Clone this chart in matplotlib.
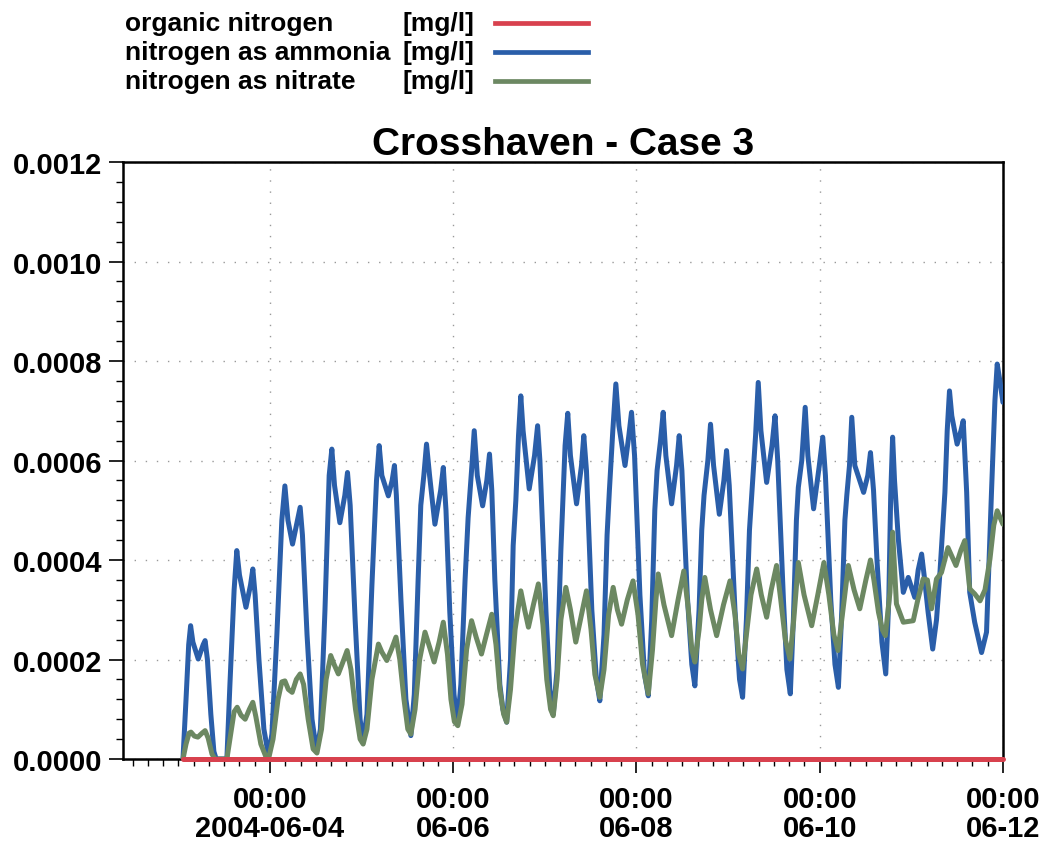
import numpy as np
import pandas as pd
import matplotlib
matplotlib.use("Agg")
import matplotlib.pyplot as plt
import matplotlib.dates as mdates
from matplotlib.lines import Line2D
from matplotlib.ticker import MultipleLocator, FixedLocator

plt.rcParams['font.family'] = ['Liberation Sans', 'DejaVu Sans']

# time in hours after 2004-06-04 00:00, concentrations in 1e-4 mg/l
t_amm = [-22.8, -22.0, -21.3, -20.8, -20.2, -18.8, -17.5, -17.0, -16.4, -15.5, -14.7, -14.1,
         -11.3, -10.5, -9.4, -8.7, -8.0, -6.3, -5.1, -4.5, -3.9, -2.9, -1.6, -0.4,
         0.5, 1.8, 3.1, 3.9, 4.7, 5.9, 7.2, 7.9, 8.5, 9.7, 11.0, 12.2,
         13.2, 14.4, 15.5, 16.2, 16.9, 18.3, 19.6, 20.3, 21.0, 22.3, 23.6, 24.4,
         25.4, 26.7, 27.9, 28.6, 29.3, 31.0, 32.0, 32.6, 33.1, 34.3, 35.6, 36.9,
         37.8, 38.8, 39.5, 40.3, 41.0, 41.8, 43.2, 44.7, 45.4, 46.1, 47.1, 48.2, 49.1,
         50.0, 51.1, 51.9, 52.8, 53.5, 54.3, 55.7, 56.8, 57.5, 58.1, 58.9, 60.2, 61.0, 62.0,
         63.0, 63.7, 64.4, 65.1, 65.7, 66.3, 67.9, 69.3, 70.1, 70.7, 72.3, 73.3, 74.2,
         75.2, 76.2, 77.3, 78.0, 78.7, 80.3, 81.6, 82.2, 82.9, 84.3, 85.5, 86.4,
         87.5, 88.3, 88.9, 89.8, 90.6, 91.4, 93.0, 94.0, 94.7, 95.5, 96.9, 98.1, 99.1,
         100.0, 100.8, 101.4, 102.3, 103.0, 103.7, 105.2, 106.5, 107.2, 107.9, 109.3, 110.5, 111.3,
         112.4, 113.1, 113.7, 114.7, 115.4, 116.2, 117.7, 118.9, 119.6, 120.3, 121.8, 123.0, 123.8,
         124.8, 125.6, 126.2, 127.2, 127.9, 128.6, 130.1, 131.5, 132.3, 133.0, 134.5, 135.4, 136.3,
         137.1, 137.9, 138.4, 139.3, 140.2, 140.9, 142.4, 143.9, 144.8, 145.5, 146.9, 148.0, 148.9,
         149.8, 150.6, 151.1, 151.8, 152.4, 153.2, 155.5, 156.6, 157.3, 158.1, 159.0, 160.3, 161.3,
         162.1, 162.6, 163.1, 163.6, 164.6, 165.9, 167.2, 168.9, 169.8, 170.7, 171.5, 172.4, 173.6,
         174.6, 175.5, 176.8, 177.4, 178.0, 178.6, 180.0, 181.0, 181.6, 182.5, 183.3, 184.6, 186.4,
         187.7, 189.0, 189.9, 190.5, 191.2, 192.0]
ammonia = [0, 1.2, 2.3, 2.68, 2.35, 2.01, 2.3, 2.38, 2.0, 0.9, 0.15, 0,
           0, 1.5, 3.4, 4.19, 3.7, 3.05, 3.5, 3.82, 3.3, 2.0, 0.6, 0.07,
           0.5, 2.5, 4.8, 5.49, 4.8, 4.32, 4.8, 5.06, 4.5, 2.5, 0.8, 0.15,
           0.6, 3.0, 5.7, 6.23, 5.5, 4.75, 5.3, 5.76, 5.1, 2.8, 0.8, 0.34,
           0.9, 3.5, 5.6, 6.3, 5.7, 5.29, 5.6, 5.9, 5.3, 3.2, 1.2, 0.47,
           1.3, 3.6, 5.1, 5.7, 6.33, 5.7, 4.72, 5.4, 5.86, 5.0, 2.95, 1.3, 0.7,
           1.5, 3.6, 4.85, 5.8, 6.6, 5.7, 5.09, 5.6, 6.13, 5.4, 3.6, 1.5, 1.0, 0.74,
           2.0, 4.29, 5.2, 6.5, 7.3, 6.6, 5.43, 6.1, 6.7, 6.0, 2.95, 1.4, 0.9,
           1.8, 4.2, 6.3, 6.95, 6.1, 5.13, 5.9, 6.5, 5.8, 3.0, 1.6, 1.17,
           2.5, 4.5, 5.39, 6.6, 7.54, 6.7, 5.9, 6.5, 6.97, 6.1, 3.3, 1.7, 1.27,
           2.8, 5.0, 5.8, 6.4, 6.97, 6.1, 5.13, 5.9, 6.5, 5.8, 3.3, 1.9, 1.47,
           3.0, 4.6, 5.3, 6.0, 6.73, 5.9, 4.92, 5.6, 6.2, 5.5, 3.0, 1.6, 1.24,
           2.8, 4.6, 5.3, 6.5, 7.57, 6.6, 5.56, 6.3, 6.9, 6.0, 3.2, 1.8, 1.31,
           2.8, 4.8, 5.46, 6.0, 7.07, 6.1, 5.03, 5.9, 6.47, 5.7, 3.2, 1.9, 1.44,
           3.0, 4.8, 5.3, 5.9, 6.87, 5.9, 5.36, 5.7, 6.16, 5.4, 4.0, 2.35, 1.71,
           3.2, 5.3, 6.47, 5.6, 4.42, 3.35, 3.65, 3.25, 3.8, 4.12, 3.6, 2.95, 2.21,
           2.8, 3.75, 5.36, 6.6, 7.4, 6.9, 6.33, 6.6, 6.8, 5.36, 3.35, 2.75, 2.14,
           2.55, 5.36, 7.2, 7.94, 7.6, 7.17]

t_nit = [-22.8, -22.0, -21.2, -20.7, -19.8, -18.9, -17.8, -17.0, -16.2, -15.2, -14.4,
         -11.3, -10.5, -9.4, -8.6, -7.6, -6.5, -5.4, -4.5, -3.7, -2.4, -1.0, -0.3,
         0.8, 2.1, 3.1, 3.9, 4.8, 5.8, 6.9, 7.9, 8.8, 10.0, 11.3, 12.3,
         13.5, 14.7, 15.9, 16.8, 17.9, 19.1, 20.2, 21.2, 22.4, 23.6, 24.4,
         25.4, 26.7, 28.4, 29.3, 30.6, 31.8, 33.0, 34.0, 35.1, 36.1, 36.9,
         38.0, 39.2, 40.6, 41.6, 43.0, 44.3, 45.4, 46.5, 47.4, 48.3, 49.2,
         50.3, 51.5, 52.8, 54.0, 55.4, 56.7, 58.1, 59.2, 60.2, 61.2, 62.0,
         63.0, 64.2, 65.7, 66.7, 67.7, 69.0, 70.3, 71.5, 72.5, 73.5, 74.2,
         75.2, 76.2, 77.5, 78.7, 80.1, 81.6, 82.9, 84.1, 85.1, 86.4,
         87.5, 88.7, 89.9, 91.0, 92.1, 93.6, 95.1, 96.4, 97.6, 99.1,
         100.2, 101.1, 101.7, 103.2, 105.2, 106.9, 108.4, 109.6, 110.5, 111.3,
         112.4, 113.1, 113.9, 115.4, 117.0, 118.8, 120.5, 121.8, 122.8, 123.8,
         124.8, 126.0, 127.5, 128.7, 130.1, 131.3, 132.7, 133.8, 135.0, 136.2,
         137.2, 138.4, 139.9, 141.9, 143.5, 145.1, 146.4, 147.7, 148.8,
         150.1, 151.5, 153.0, 154.5, 156.1, 157.3, 158.2, 159.4, 160.4, 161.2,
         162.4, 163.1, 164.1, 165.9, 168.5, 169.7, 171.1, 172.2, 173.3, 174.6, 175.9,
         177.6, 179.7, 181.0, 182.0, 183.3, 184.6, 186.0, 187.3, 188.6, 189.6, 190.5, 192.0]
nitrate = [0, 0.3, 0.52, 0.54, 0.46, 0.44, 0.52, 0.57, 0.42, 0.1, 0,
           0, 0.4, 0.95, 1.04, 0.88, 0.8, 1.0, 1.14, 0.85, 0.3, 0.03, 0.03,
           0.4, 1.2, 1.55, 1.57, 1.4, 1.34, 1.6, 1.71, 1.5, 0.8, 0.2, 0.12,
           0.6, 1.6, 2.08, 1.9, 1.71, 1.95, 2.18, 1.8, 1.0, 0.4, 0.3,
           0.6, 1.6, 2.31, 2.15, 1.98, 2.2, 2.45, 2.0, 1.2, 0.6, 0.5,
           1.0, 2.0, 2.55, 2.3, 1.95, 2.35, 2.75, 2.1, 1.2, 0.75, 0.67,
           1.1, 2.2, 2.78, 2.45, 2.11, 2.5, 2.91, 2.3, 1.4, 0.9, 0.74,
           1.4, 2.6, 3.38, 3.0, 2.65, 3.1, 3.52, 2.7, 1.6, 1.0, 0.87,
           1.6, 2.8, 3.45, 3.0, 2.35, 2.9, 3.38, 2.6, 1.7, 1.24,
           1.8, 2.9, 3.45, 3.0, 2.71, 3.2, 3.58, 2.9, 1.9, 1.31,
           2.2, 3.2, 3.72, 3.1, 2.48, 3.2, 3.78, 3.0, 2.2, 1.95,
           2.6, 3.2, 3.65, 3.0, 2.48, 3.1, 3.58, 2.9, 2.1, 1.81,
           2.5, 3.3, 3.82, 3.3, 2.85, 3.4, 3.89, 3.2, 2.4, 2.01,
           2.8, 3.95, 3.3, 2.68, 3.3, 3.95, 3.3, 2.5, 2.18,
           3.0, 3.89, 3.4, 3.02, 3.6, 4.0, 3.6, 2.95, 2.6, 2.48,
           3.35, 4.56, 3.12, 2.75, 2.78, 3.2, 3.62, 3.6, 3.02, 3.62, 3.75,
           4.25, 3.89, 4.2, 4.39, 3.42, 3.32, 3.18, 3.4, 4.02, 4.7, 4.99, 4.72]

t_org = [-22.8, 192.0]
organic = [0, 0]

labels = ['organic nitrogen', 'nitrogen as ammonia', 'nitrogen as nitrate']
colors = ['#d8414e', '#2a5ea9', '#6c8862']

t0 = pd.Timestamp('2004-06-04 00:00')
def to_time(h):
    return t0 + pd.to_timedelta(np.array(h), unit='h')

fig = plt.figure(figsize=(10.48, 8.45), dpi=100)
ax = fig.add_axes([0.1174, 0.1006, 0.8396, 0.7064])

kw = dict(lw=3.6, solid_joinstyle='round', solid_capstyle='round')
ax.plot(to_time(t_amm), np.array(ammonia) * 1e-4, color=colors[1], zorder=3, **kw)
ax.plot(to_time(t_nit), np.array(nitrate) * 1e-4, color=colors[2], zorder=4, **kw)
ax.plot(to_time(t_org), np.array(organic) * 1e-4, color=colors[0], zorder=5, clip_on=False, **kw)

ax.set_xlim(t0 - pd.Timedelta(hours=38.5), pd.Timestamp('2004-06-12 00:00'))
ax.set_ylim(0, 0.0012)

ax.yaxis.set_major_locator(MultipleLocator(0.0002))
ax.yaxis.set_minor_locator(MultipleLocator(0.00004))
ax.set_yticklabels([f'{v:.4f}' for v in ax.get_yticks()])

major_days = pd.date_range('2004-06-04', '2004-06-12', freq='2D')
ax.xaxis.set_major_locator(FixedLocator(mdates.date2num(major_days)))
ax.xaxis.set_minor_locator(mdates.HourLocator(byhour=range(0, 24, 4)))
xlabels = ['00:00\n' + (d.strftime('%Y-%m-%d') if i == 0 else d.strftime('%m-%d'))
           for i, d in enumerate(major_days)]
ax.set_xticklabels(xlabels, linespacing=1.05)

for lab in ax.get_xticklabels() + ax.get_yticklabels():
    lab.set_fontsize(21)
    lab.set_fontweight('bold')

ax.tick_params(axis='both', which='major', length=10, width=1.2, direction='out', pad=5)
ax.tick_params(axis='both', which='minor', length=5, width=1, direction='out')
ax.tick_params(axis='x', which='major', pad=9)

ax.grid(True, which='major', linestyle=(0, (1, 7)), color='#999999', lw=1)
for s in ax.spines.values():
    s.set_linewidth(1.8)

ax.set_title('Crosshaven - Case 3', fontsize=28, fontweight='bold', pad=6)

# legend block at top left
rows_y = [0.9716, 0.9373, 0.9030]
for lab, col, y in zip(labels, colors, rows_y):
    fig.text(0.1193, y, lab, fontsize=19, fontweight='bold', va='center', ha='left')
    fig.text(0.3836, y, '[mg/l]', fontsize=19, fontweight='bold', va='center', ha='left')
    fig.add_artist(Line2D([0.4723, 0.5611], [y, y], color=col, lw=3.4,
                          transform=fig.transFigure))

fig.savefig('out.png', dpi=100)
